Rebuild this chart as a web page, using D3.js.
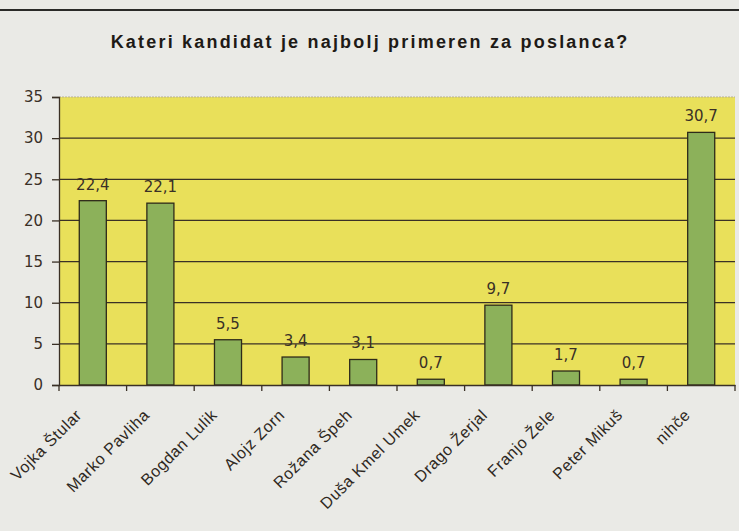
<!DOCTYPE html>
<html>
<head>
<meta charset="utf-8">
<script src="https://cdn.jsdelivr.net/npm/d3@7/dist/d3.min.js"></script>
<style>
  html, body { margin: 0; padding: 0; background: #eaeae6; }
  svg { display: block; }
</style>
</head>
<body>
<svg id="chart" width="739" height="531"></svg>
<script>
const categories = ["Vojka Štular", "Marko Pavliha", "Bogdan Lulik", "Alojz Zorn", "Rožana Špeh",
  "Duša Kmel Umek", "Drago Žerjal", "Franjo Žele", "Peter Mikuš", "nihče"];
const values = [22.4, 22.1, 5.5, 3.4, 3.1, 0.7, 9.7, 1.7, 0.7, 30.7];
const valueLabels = ["22,4", "22,1", "5,5", "3,4", "3,1", "0,7", "9,7", "1,7", "0,7", "30,7"];
const yTicks = [0, 5, 10, 15, 20, 25, 30, 35];
const title = "Kateri kandidat je najbolj primeren za poslanca?";

const svg = d3.select("#chart");
const W = 739, H = 531;
const m = { left: 59, right: 4, top: 97, bottom: 146 };
const x = d3.scaleBand().domain(categories).range([m.left, W - m.right]).paddingInner(0.6).paddingOuter(0.3);
const xTick = d3.scaleBand().domain(categories).range([m.left, W - m.right]);
const y = d3.scaleLinear().domain([0, 35]).range([H - m.bottom, m.top]);
const ink = "#3a3026";
const numFont = "DejaVu Sans, Verdana, sans-serif";

// top rule
svg.append("line").attr("x1", 0).attr("x2", W).attr("y1", 10).attr("y2", 10)
  .attr("stroke", "#2a2a28").attr("stroke-width", 2);

// title
svg.append("text").attr("x", 370).attr("y", 48).attr("text-anchor", "middle")
  .attr("font-family", "Liberation Sans, Arial, sans-serif").attr("font-weight", "bold")
  .attr("font-size", 18).attr("fill", "#1e1a16").attr("letter-spacing", "2.2")
  .text(title);

// plot background
svg.append("rect").attr("x", m.left).attr("y", y(35)).attr("width", W - m.right - m.left)
  .attr("height", y(0) - y(35)).attr("fill", "#e9e05a");
svg.append("line").attr("x1", m.left).attr("x2", W - m.right).attr("y1", y(35)).attr("y2", y(35))
  .attr("stroke", "#b8b090").attr("stroke-width", 1).attr("stroke-dasharray", "2,1");

// gridlines
svg.append("g").selectAll("line").data(yTicks.filter(d => d > 0 && d < 35)).join("line")
  .attr("x1", m.left).attr("x2", W - m.right)
  .attr("y1", d => y(d)).attr("y2", d => y(d))
  .attr("stroke", ink).attr("stroke-width", 1.3);

// bars
svg.append("g").selectAll("rect").data(values).join("rect")
  .attr("x", (d, i) => x(categories[i]))
  .attr("width", x.bandwidth())
  .attr("y", d => y(d))
  .attr("height", d => y(0) - y(d))
  .attr("fill", "#8cb15a").attr("stroke", "#2e2a1a").attr("stroke-width", 1.3);

// value labels
svg.append("g").selectAll("text").data(values).join("text")
  .attr("x", (d, i) => x(categories[i]) + x.bandwidth() / 2)
  .attr("y", d => y(d) - 11)
  .attr("text-anchor", "middle")
  .attr("font-family", numFont)
  .attr("font-size", 15).attr("fill", ink)
  .text((d, i) => valueLabels[i]);

// y axis
const yAxis = d3.axisLeft(y).tickValues(yTicks).tickSize(7).tickPadding(9).tickFormat(d3.format("d"));
const gy = svg.append("g").attr("transform", `translate(${m.left},0)`).call(yAxis);
gy.select(".domain").attr("stroke", ink).attr("stroke-width", 1.3);
gy.selectAll(".tick line").attr("stroke", ink).attr("stroke-width", 1.3);
gy.selectAll(".tick text").attr("font-family", numFont)
  .attr("font-size", 15).attr("fill", ink);

// x axis
const xAxis = d3.axisBottom(xTick).tickSize(0).tickFormat("");
const gx = svg.append("g").attr("transform", `translate(0,${y(0)})`).call(xAxis);
gx.select(".domain").attr("stroke", ink).attr("stroke-width", 1.3);
const bounds = categories.map(c => xTick(c)).concat([xTick(categories[categories.length - 1]) + xTick.bandwidth()]);
gx.append("g").selectAll("line").data(bounds).join("line")
  .attr("x1", d => d).attr("x2", d => d).attr("y1", 0).attr("y2", 6)
  .attr("stroke", ink).attr("stroke-width", 1.3);

// category labels rotated
svg.append("g").selectAll("text").data(categories).join("text")
  .attr("transform", d => `translate(${xTick(d) + xTick.bandwidth() / 2 - 10},${y(0) + 31}) rotate(-45)`)
  .attr("text-anchor", "end")
  .attr("font-family", "Liberation Sans, Arial, sans-serif")
  .attr("font-size", 16).attr("letter-spacing", "0.6").attr("fill", "#2e2822")
  .text(d => d);
</script>
</body>
</html>
